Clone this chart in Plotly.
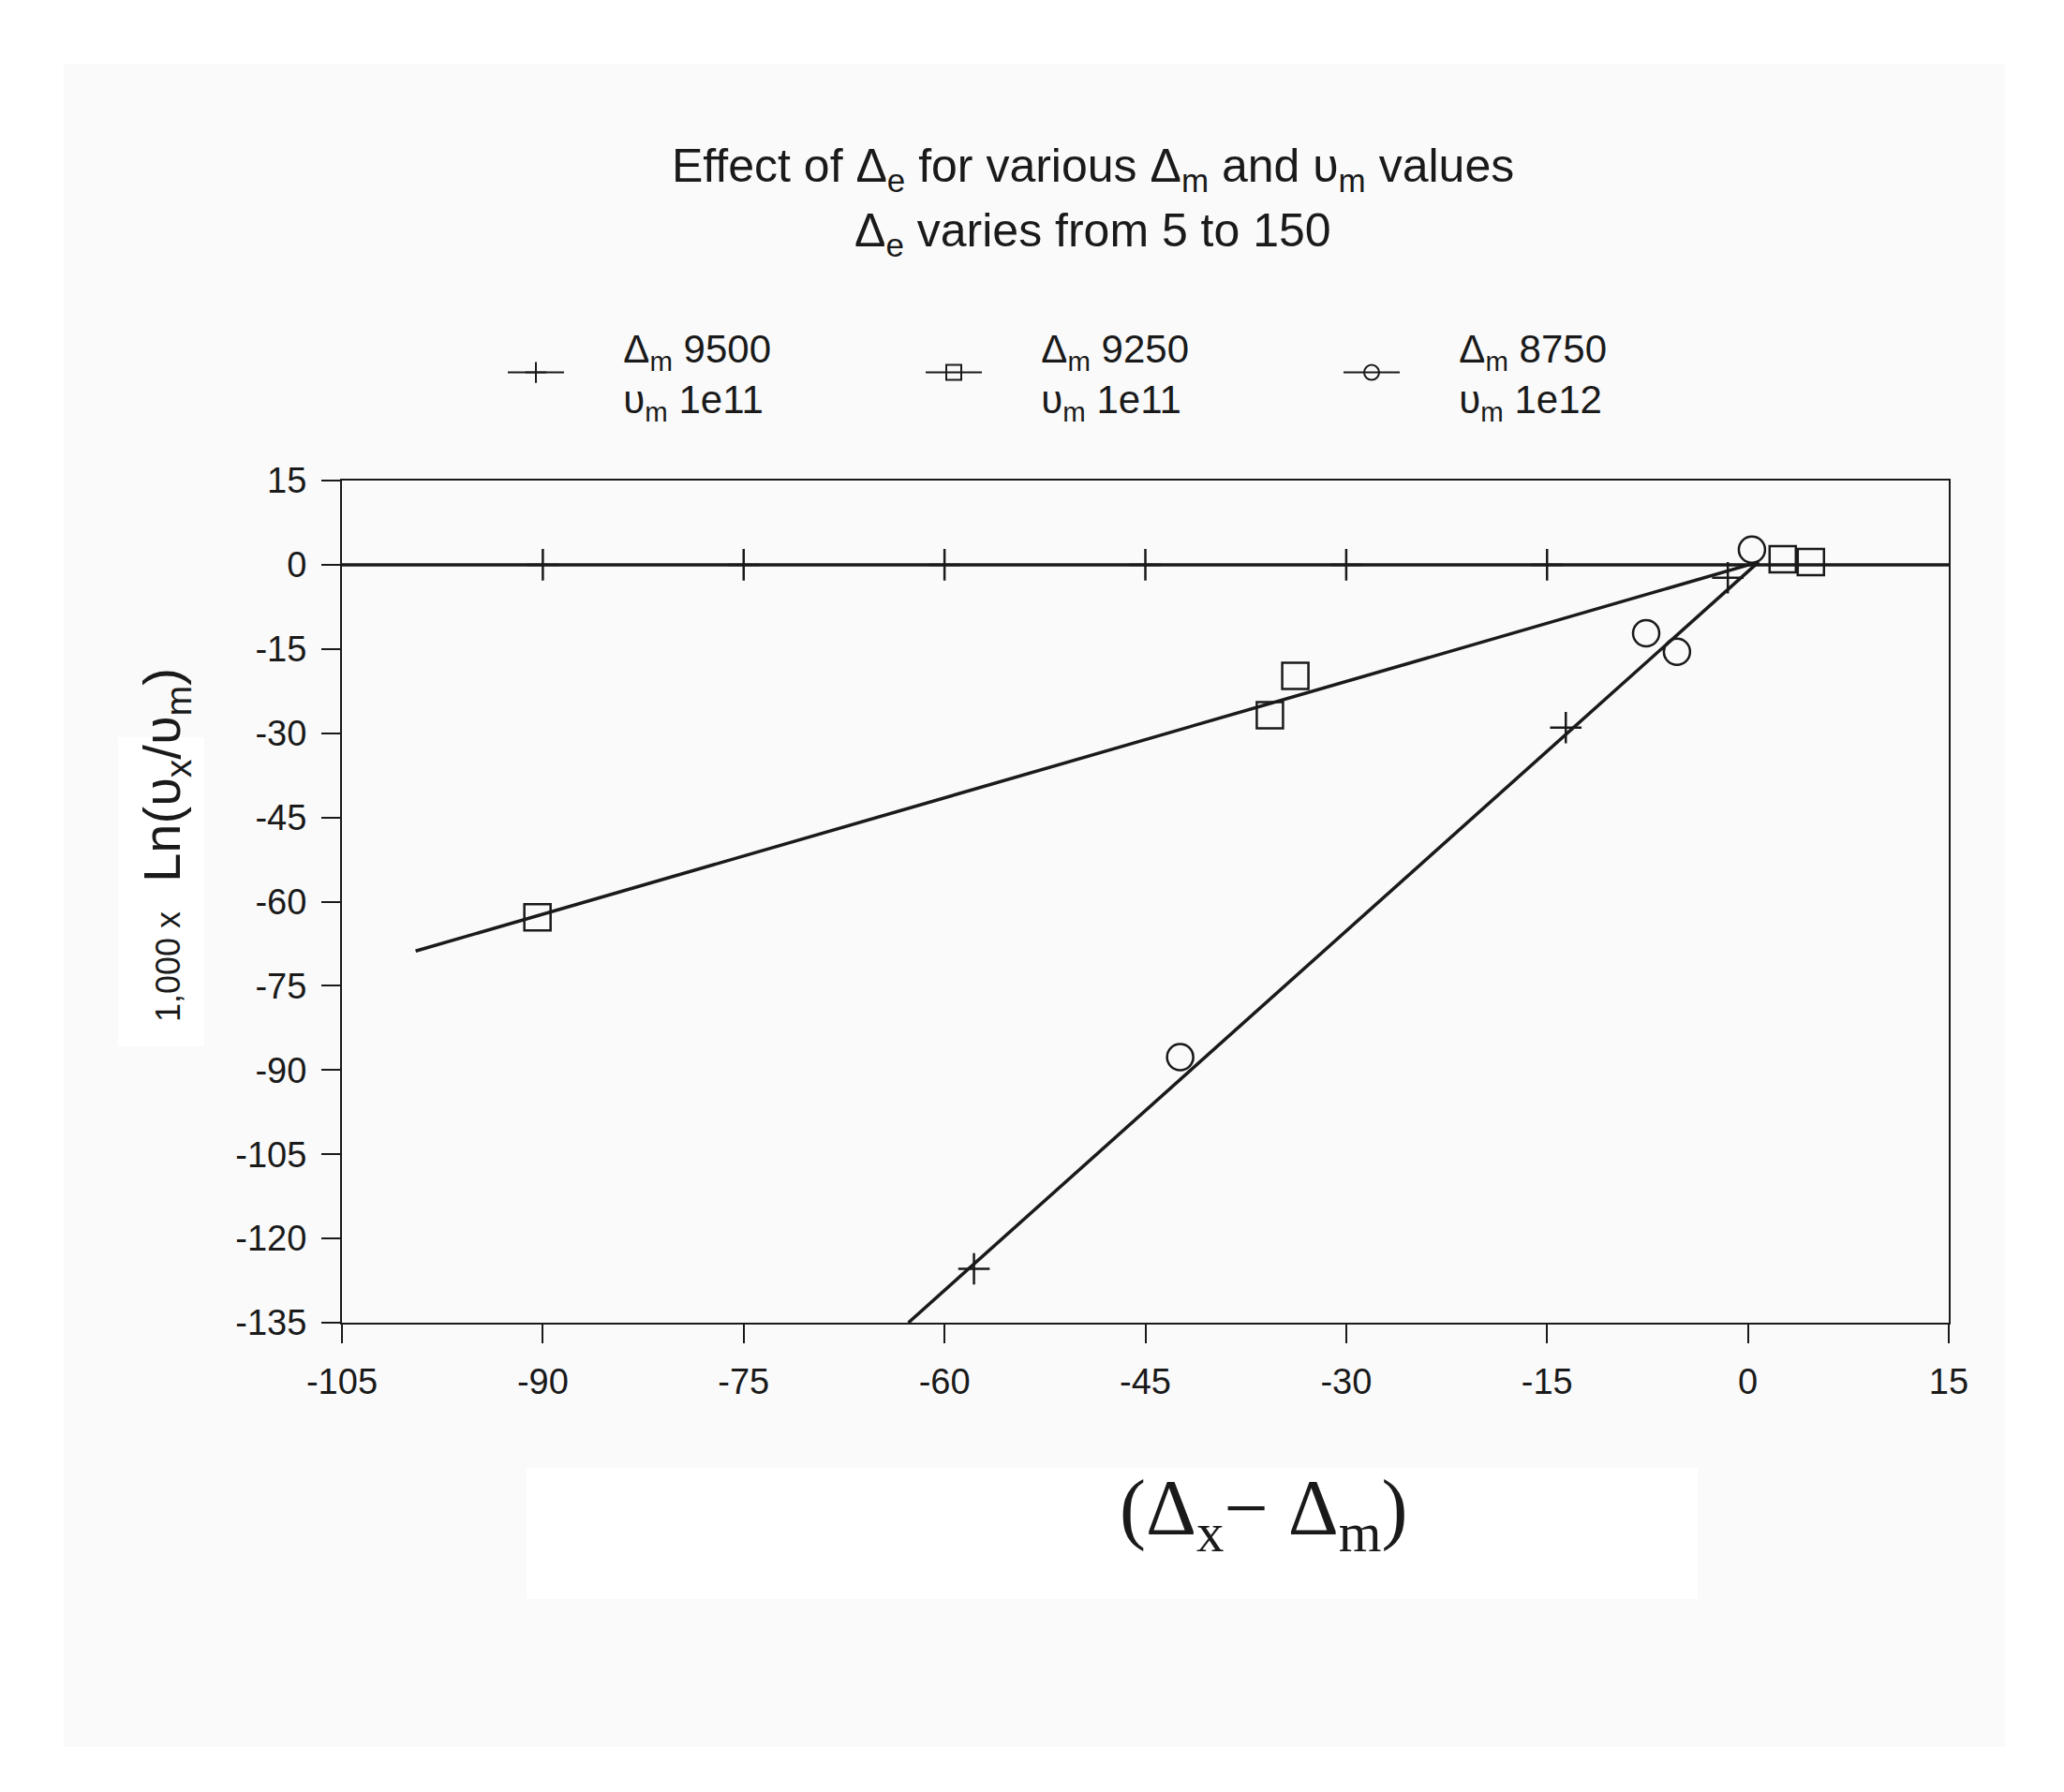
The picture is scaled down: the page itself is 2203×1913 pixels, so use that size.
import plotly.graph_objects as go

# marker positions (x = Δx - Δm, y = 1000 ln(υx/υm))
plus_x = [-90, -75, -60, -45, -30, -15, -1.5, -13.6, -57.8]
plus_y = [0, 0, 0, 0, 0, 0, -2.3, -29.0, -125.4]

square_x = [2.6, 4.7, -33.8, -35.7, -90.4]
square_y = [1.0, 0.5, -19.8, -26.8, -62.8]

circle_x = [0.3, -7.6, -5.3, -42.4]
circle_y = [2.7, -12.2, -15.5, -87.7]

# fitted lines (end points)
flat_x = [-105, 15]
flat_y = [0, 0]
square_fit_x = [-99.5, 0.8]
square_fit_y = [-68.8, 0.5]
steep_fit_x = [-62.7, 0.8]
steep_fit_y = [-135, 0.5]

NB = "\u00a0" * 5
legend_names = [
    NB + "Δ<sub>m</sub> 9500<br>" + NB + "υ<sub>m</sub> 1e11",
    NB + "Δ<sub>m</sub> 9250<br>" + NB + "υ<sub>m</sub> 1e11",
    NB + "Δ<sub>m</sub> 8750<br>" + NB + "υ<sub>m</sub> 1e12",
]
legend_symbols = ["cross-thin-open", "square-open", "circle-open"]

x_ticks = [-105, -90, -75, -60, -45, -30, -15, 0, 15]
y_ticks = [15, 0, -15, -30, -45, -60, -75, -90, -105, -120, -135]

INK = "#1a1a1a"

# plot box in reference pixels (page is shifted 8px by the body margin)
L, R, T, B = 365, 2080, 513, 1412
W, H = R - L, B - T


def px(x):
    return (x - L) / W


def py(y):
    return (B - y) / H


fig = go.Figure()

for lx, ly in [(flat_x, flat_y), (square_fit_x, square_fit_y), (steep_fit_x, steep_fit_y)]:
    fig.add_trace(go.Scatter(x=lx, y=ly, mode="lines", showlegend=False,
                             line=dict(color=INK, width=3.5), hoverinfo="skip"))

fig.add_trace(go.Scatter(x=plus_x, y=plus_y, mode="markers", showlegend=False,
                         marker=dict(symbol="cross-thin-open", size=24, color=INK,
                                     line=dict(color=INK, width=2.5))))
fig.add_trace(go.Scatter(x=square_x, y=square_y, mode="markers", showlegend=False,
                         marker=dict(symbol="square-open", size=28, color=INK,
                                     line=dict(color=INK, width=2.5))))
fig.add_trace(go.Scatter(x=circle_x, y=circle_y, mode="markers", showlegend=False,
                         marker=dict(symbol="circle-open", size=28, color=INK,
                                     line=dict(color=INK, width=2.5))))

# legend entries (line + symbol)
for name, sym in zip(legend_names, legend_symbols):
    fig.add_trace(go.Scatter(x=[None], y=[None], mode="lines+markers", name=name,
                             line=dict(color=INK, width=2),
                             marker=dict(symbol=sym, size=22, color=INK,
                                         line=dict(color=INK, width=2))))

axis_style = dict(ticks="outside", ticklen=20, tickwidth=2, tickcolor=INK,
                  showline=True, linecolor=INK, linewidth=2, mirror=True,
                  showgrid=False, zeroline=False, ticklabelstandoff=8,
                  tickfont=dict(family="Liberation Sans, Arial", size=38, color=INK))
fig.update_xaxes(range=[-105, 15], tickvals=x_ticks, ticktext=[str(v) for v in x_ticks],
                 **axis_style)
fig.update_yaxes(range=[-135, 15], tickvals=y_ticks, ticktext=[str(v) for v in y_ticks],
                 **axis_style)

fig.update_layout(
    width=2203, height=1913,
    margin=dict(l=L - 8, r=2203 - R + 8, t=T - 8, b=1913 - B + 8),
    paper_bgcolor="white", plot_bgcolor="#fcfcfc",
    font=dict(family="Liberation Sans, Arial", color=INK),
    legend=dict(orientation="h", x=px(537), y=py(398), xanchor="left", yanchor="middle",
                font=dict(size=42, color=INK), bgcolor="rgba(0,0,0,0)",
                itemwidth=60, entrywidth=371, entrywidthmode="pixels"),
    shapes=[
        dict(type="rect", xref="paper", yref="paper", layer="below",
             x0=px(68), x1=px(2140), y0=py(1865), y1=py(68),
             fillcolor="#fafafa", line=dict(width=0)),
        # white scan patches behind the axis titles
        dict(type="rect", xref="paper", yref="paper", layer="below",
             x0=px(562), x1=px(1812), y0=py(1707), y1=py(1567),
             fillcolor="white", line=dict(width=0)),
        dict(type="rect", xref="paper", yref="paper", layer="below",
             x0=px(126), x1=px(218), y0=py(1117), y1=py(787),
             fillcolor="white", line=dict(width=0)),
    ],
    annotations=[
        dict(text="Effect of Δ<sub>e</sub> for various Δ<sub>m</sub> and υ<sub>m</sub> values",
             xref="paper", yref="paper", x=px(1166), y=py(180),
             xanchor="center", yanchor="middle",
             showarrow=False, font=dict(size=50, color=INK)),
        dict(text="Δ<sub>e</sub> varies from 5 to 150",
             xref="paper", yref="paper", x=px(1166), y=py(250),
             xanchor="center", yanchor="middle",
             showarrow=False, font=dict(size=50, color=INK)),
        dict(text="<span style='font-size:36px'>1,000 x</span>  Ln(υ<sub>x</sub>/υ<sub>m</sub>)",
             xref="paper", yref="paper", x=px(176), y=py(902),
             xanchor="center", yanchor="middle",
             textangle=-90, showarrow=False, font=dict(size=56, color=INK)),
        dict(text="(Δ<sub>x</sub>− Δ<sub>m</sub>)",
             xref="paper", yref="paper", x=px(1349), y=py(1616),
             xanchor="center", yanchor="middle",
             showarrow=False,
             font=dict(family="Liberation Serif, Times New Roman", size=84, color=INK)),
    ],
)

fig.write_html("out.html")
